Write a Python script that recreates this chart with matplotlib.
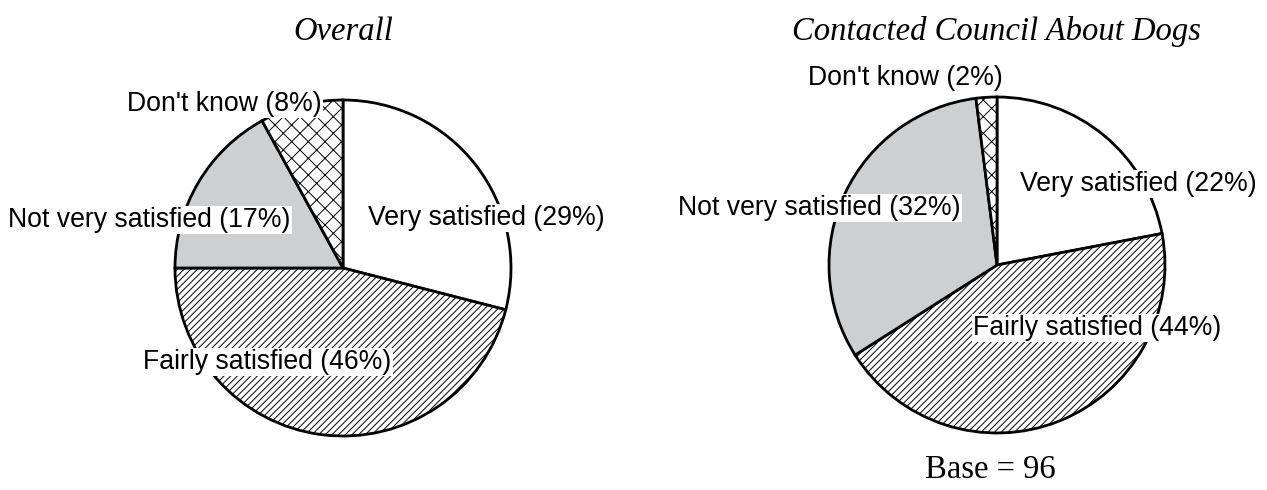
import matplotlib.pyplot as plt

# survey answers, clockwise from 12 o'clock
answers = ['Very satisfied', 'Fairly satisfied', 'Not very satisfied', "Don't know"]
overall = [29, 46, 17, 8]
contacted = [22, 44, 32, 2]

titles = ['Overall', 'Contacted Council About Dogs']
base_note = 'Base = 96'

fills = ['white', 'white', '#cdcfd1', 'white']
hatches = [None, '/////', None, 'xx']

plt.rcParams['hatch.linewidth'] = 0.7
plt.rcParams['hatch.color'] = 'black'

W, H = 1267, 490
fig = plt.figure(figsize=(W / 100, H / 100), dpi=100)
ax = fig.add_axes([0, 0, 1, 1])

# pie centres / radius in pixel space (y measured from top)
centres = [(343, 268), (997, 265)]
radius = 168

# label anchor points (pixel space, left edge, vertical middle)
label_pos = [
    [(368, 218), (143, 362), (8, 220), (127, 104)],
    [(1020, 184), (973, 328), (678, 208), (808, 78)],
]

for data, (cx, cy), title, lpos in zip([overall, contacted], centres, titles, label_pos):
    wedges, _ = ax.pie(data, colors=fills, startangle=90, counterclock=False,
                       center=(cx, H - cy), radius=radius,
                       wedgeprops=dict(edgecolor='black', linewidth=2))
    for w, h in zip(wedges, hatches):
        if h:
            w.set_hatch(h)
    for name, val, (lx, ly) in zip(answers, data, lpos):
        ax.text(lx, H - ly, f'{name} ({val}%)', fontsize=19.2,
                family='Liberation Sans', ha='left', va='center',
                bbox=dict(facecolor='white', edgecolor='none', pad=1))
    ax.text(cx, H - 32, title, fontsize=23.5, family='Liberation Serif',
            style='italic', ha='center', va='center')

ax.text(990, H - 470, base_note, fontsize=23.5, family='Liberation Serif',
        ha='center', va='center')

ax.set_xlim(0, W)
ax.set_ylim(0, H)
ax.set_aspect('equal')
ax.axis('off')

fig.savefig('out.png', dpi=100, facecolor='white')
